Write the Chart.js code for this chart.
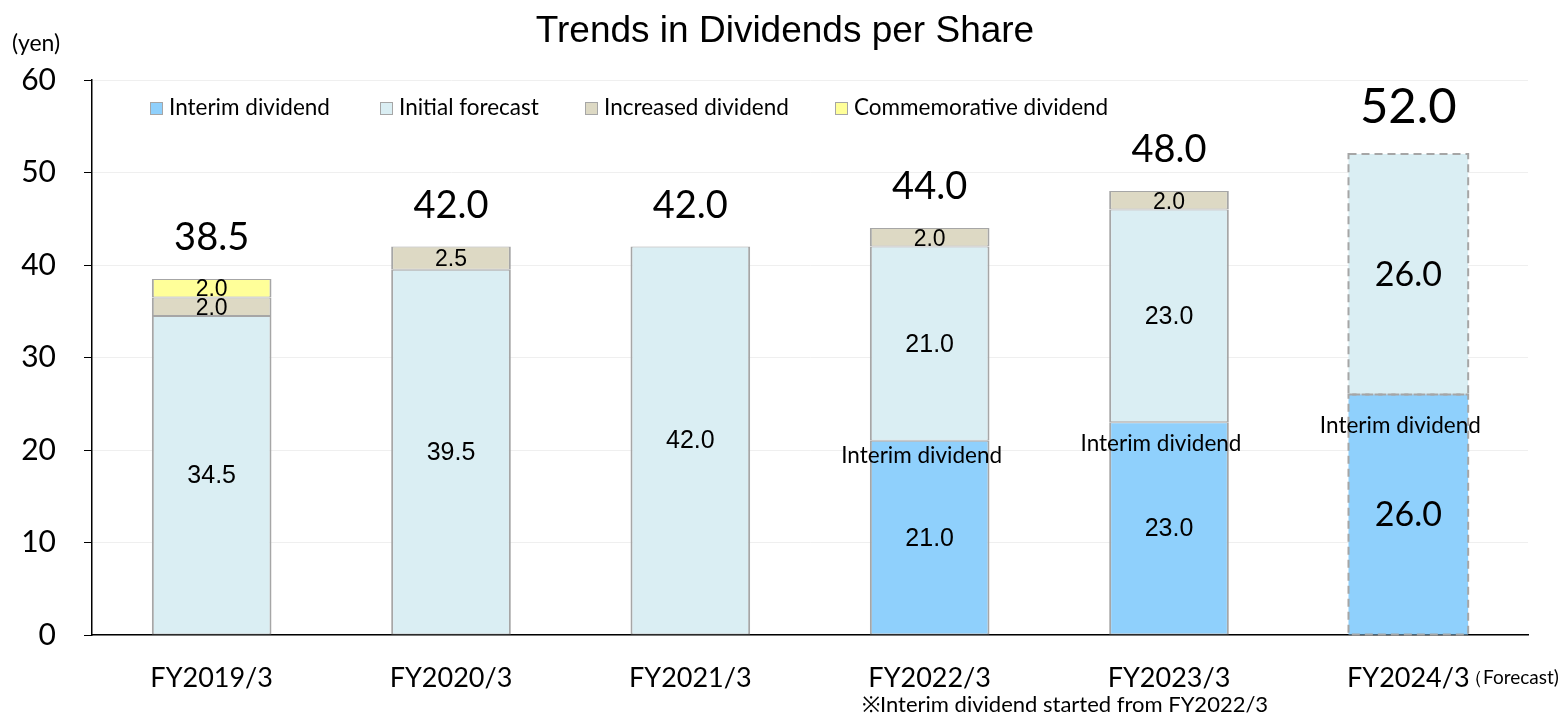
<!DOCTYPE html>
<html lang="en">
<head>
  <meta charset="UTF-8" />
  <title>Trends in Dividends per Share</title>
  <script src="https://cdn.jsdelivr.net/npm/chart.js@4.4.0/dist/chart.umd.min.js"></script>
  <style>
    body { margin: 0; background: #fff; }
    .wrap { position: relative; width: 1567px; height: 716px; }
    .legend { position: absolute; top: 93px; font-family: Lato, sans-serif; font-size: 22.5px; color: #000; white-space: nowrap; }
    .legend i { display: inline-block; width: 11px; height: 11px; border: 1px solid #a6a6a6; margin-right: 6px; vertical-align: 0px; }
  </style>
</head>
<body>
  <div class="wrap">
    <canvas id="chart" width="1567" height="716"></canvas>
    <div class="legend" style="left:150px"><i style="background:#8fd0fc"></i>Interim dividend</div>
    <div class="legend" style="left:380px"><i style="background:#daeef3"></i>Initial forecast</div>
    <div class="legend" style="left:585px"><i style="background:#ddd9c4"></i>Increased dividend</div>
    <div class="legend" style="left:835px"><i style="background:#ffff99"></i>Commemorative dividend</div>
  </div>

  <script>
    const categories = ['FY2019/3', 'FY2020/3', 'FY2021/3', 'FY2022/3', 'FY2023/3', 'FY2024/3'];
    const interim = [null, null, null, 21, 23, 26];
    const initialForecast = [34.5, 39.5, 42, 21, 23, 26];
    const increased = [2, 2.5, null, 2, 2, null];
    const commemorative = [2, null, null, null, null, null];
    const totals = [38.5, 42.0, 42.0, 44.0, 48.0, 52.0];
    const forecastIndex = 5;

    const sansFont = 'Lato, sans-serif';
    const arialFont = '"Liberation Sans", Arial, sans-serif';

    // 預測年度的柱子不畫實線框，改用虛線
    const border = ctx => ctx.dataIndex === forecastIndex ? 0 : { top: 1, bottom: 1, left: 2, right: 2 };

    function ds(label, data, color) {
      return {
        label: label,
        data: data,
        backgroundColor: color,
        borderColor: '#a6a6a6',
        borderWidth: border,
        borderSkipped: false,
        stack: 's'
      };
    }

    const labelsPlugin = {
      id: 'labels',
      afterDatasetsDraw(chart) {
        const c = chart.ctx;
        c.save();
        c.textAlign = 'center';
        c.textBaseline = 'middle';
        c.fillStyle = '#000';

        // dashed outline for forecast bar
        chart.data.datasets.forEach((d, di) => {
          const el = chart.getDatasetMeta(di).data[forecastIndex];
          if (!el || d.data[forecastIndex] == null) return;
          const w = el.width;
          c.save();
          c.setLineDash([8, 5]);
          c.strokeStyle = '#a6a6a6';
          c.lineWidth = 2;
          c.strokeRect(el.x - w / 2, el.y, w, el.base - el.y);
          c.restore();
        });

        // segment values
        chart.data.datasets.forEach((d, di) => {
          const meta = chart.getDatasetMeta(di);
          meta.data.forEach((el, i) => {
            const v = d.data[i];
            if (v == null) return;
            const big = i === forecastIndex;
            const small = v < 5;
            c.font = big ? '34px ' + sansFont : (small ? '23px ' + arialFont : '25px ' + arialFont);
            c.fillText(v.toFixed(1), el.x, (el.y + el.base) / 2 + (small ? 2 : 1));
          });
        });

        // "Interim dividend" labels under top of interim part
        const im = chart.getDatasetMeta(0);
        im.data.forEach((el, i) => {
          if (interim[i] == null) return;
          c.font = '22.5px ' + sansFont;
          c.fillText('Interim dividend', el.x - 8, el.y + (i === forecastIndex ? 31 : (i === 4 ? 21 : 15)));
        });

        // totals above the bars
        const x = chart.scales.x, y = chart.scales.y;
        totals.forEach((t, i) => {
          const big = i === forecastIndex;
          c.font = (big ? '49px ' : '38px ') + sansFont;
          c.fillText(t.toFixed(1), x.getPixelForValue(i), y.getPixelForValue(t) - (big ? 47 : 41));
        });
        c.restore();
      },
      afterDraw(chart) {
        const c = chart.ctx;
        c.save();
        c.fillStyle = '#000';
        c.textBaseline = 'middle';
        c.textAlign = 'center';
        c.font = '37px ' + arialFont;
        c.fillText('Trends in Dividends per Share', 785, 32);
        c.textAlign = 'left';
        c.font = '23px ' + sansFont;
        c.fillText('(yen)', 12, 44);
        c.font = '19px ' + sansFont;
        c.fillText('（Forecast)', 1464, 678);
        c.font = '22px ' + sansFont;
        c.fillText('※Interim dividend started from FY2022/3', 862, 705);
        c.restore();
      }
    };

    new Chart(document.getElementById('chart'), {
      type: 'bar',
      data: {
        labels: categories,
        datasets: [
          ds('Interim dividend', interim, '#8fd0fc'),
          ds('Initial forecast', initialForecast, '#daeef3'),
          ds('Increased dividend', increased, '#ddd9c4'),
          ds('Commemorative dividend', commemorative, '#ffff99')
        ]
      },
      options: {
        responsive: false,
        animation: false,
        categoryPercentage: 0.5,
        barPercentage: 1.0,
        layout: { padding: { top: 80, right: 39, bottom: 0, left: 0 } },
        plugins: {
          legend: { display: false },
          tooltip: { enabled: false }
        },
        scales: {
          x: {
            stacked: true,
            grid: { display: false },
            border: { color: '#000', width: 1.5 },
            ticks: { color: '#000', font: { family: sansFont, size: 27 }, padding: 19 },
            afterFit: s => { s.height = 81; }
          },
          y: {
            stacked: true,
            min: 0,
            max: 60,
            ticks: { stepSize: 10, color: '#000', font: { family: sansFont, size: 30 }, padding: 28 },
            grid: { color: '#efefef', tickColor: '#000', tickLength: 8, lineWidth: 1 },
            border: { color: '#000', width: 1.5 },
            afterFit: s => { s.width = 92; }
          }
        }
      },
      plugins: [labelsPlugin]
    });
  </script>
</body>
</html>
